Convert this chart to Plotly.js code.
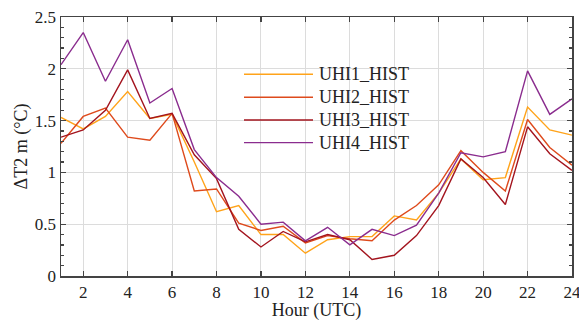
<!DOCTYPE html>
<html>
<head>
<meta charset="utf-8">
<script src="https://cdn.plot.ly/plotly-3.0.1.min.js"></script>
<style>html,body{margin:0;padding:0;background:#fff;}#chart{width:579px;height:321px;}</style>
</head>
<body>
<div id="chart"></div>
<script>
var hours = [1,2,3,4,5,6,7,8,9,10,11,12,13,14,15,16,17,18,19,20,21,22,23,24];
var uhi1 = [1.53,1.42,1.54,1.78,1.52,1.56,1.10,0.62,0.68,0.40,0.40,0.22,0.35,0.38,0.38,0.58,0.54,0.80,1.13,0.93,0.95,1.63,1.41,1.36];
var uhi2 = [1.28,1.54,1.62,1.34,1.31,1.57,0.82,0.84,0.51,0.44,0.48,0.32,0.39,0.36,0.34,0.54,0.68,0.88,1.21,1.00,0.82,1.51,1.24,1.07];
var uhi3 = [1.34,1.41,1.60,1.99,1.52,1.57,1.17,0.94,0.45,0.28,0.43,0.33,0.40,0.35,0.16,0.20,0.39,0.68,1.13,0.95,0.69,1.44,1.18,1.02];
var uhi4 = [2.04,2.35,1.88,2.28,1.67,1.81,1.22,0.95,0.77,0.50,0.52,0.34,0.47,0.30,0.45,0.39,0.49,0.80,1.19,1.15,1.20,1.98,1.56,1.71];
var names = ['UHI1_HIST','UHI2_HIST','UHI3_HIST','UHI4_HIST'];
var colors = ['#FFA31A','#DE4A1C','#A3141E','#8A2C8E'];
var series = [uhi1, uhi2, uhi3, uhi4];
var xTickVals = [2,4,6,8,10,12,14,16,18,20,22,24];
var xTickText = ['2','4','6','8','10','12','14','16','18','20','22','24'];
var yTickVals = [0,0.5,1,1.5,2,2.5];
var yTickText = ['0','0.5','1','1.5','2','2.5'];

var ML = 61, MR = 7, MT = 17, MB = 45;
var W = 579 - ML - MR, H = 321 - MT - MB;
function px(x){ return (x - ML) / W; }
function py(y){ return (321 - MB - y) / H; }

var traces = series.map(function(s, i){
  return {x: hours, y: s, type: 'scatter', mode: 'lines', name: names[i],
          line: {color: colors[i], width: 1.4}, showlegend: false};
});

var FAM = 'Liberation Serif';
var shapes = [], annotations = [];
var rowY = [74.3, 97.3, 120, 142.6];
names.forEach(function(n, i){
  shapes.push({type: 'line', xref: 'paper', yref: 'paper',
    x0: px(244), x1: px(313), y0: py(rowY[i]), y1: py(rowY[i]),
    line: {color: colors[i], width: 1.4}});
  annotations.push({xref: 'paper', yref: 'paper', x: px(317), y: py(rowY[i]),
    xanchor: 'left', yanchor: 'middle', showarrow: false, text: n,
    font: {family: FAM, size: 18, color: '#222'}});
});

var layout = {
  width: 579, height: 321,
  margin: {l: ML, r: MR, t: MT, b: MB},
  paper_bgcolor: '#fff', plot_bgcolor: '#fff',
  font: {family: FAM, size: 16, color: '#222'},
  xaxis: {range: [1, 24], tickmode: 'array', tickvals: xTickVals, ticktext: xTickText,
    ticklabeloverflow: 'allow',
    ticks: 'inside', ticklen: 5, tickwidth: 1.2, tickcolor: '#444',
    showline: true, linecolor: '#444', linewidth: 1.5, mirror: 'ticks',
    showgrid: true, gridcolor: '#dcdcdc', gridwidth: 1, zeroline: false,
    tickfont: {family: FAM, size: 17, color: '#222'},
    title: {text: 'Hour (UTC)', font: {family: FAM, size: 18, color: '#222'}, standoff: 4}},
  yaxis: {range: [0, 2.5], tickmode: 'array', tickvals: yTickVals, ticktext: yTickText,
    ticks: 'inside', ticklen: 5, tickwidth: 1.2, tickcolor: '#444',
    showline: true, linecolor: '#444', linewidth: 1.5, mirror: 'ticks',
    showgrid: true, gridcolor: '#dcdcdc', gridwidth: 1, zeroline: false,
    minor: {dtick: 0.1, tick0: 0, ticks: 'inside', ticklen: 3, tickcolor: '#444', showgrid: false},
    tickfont: {family: FAM, size: 17, color: '#222'},
    title: {text: '\u0394T2 m (\u00B0C)', font: {family: FAM, size: 18, color: '#222'}, standoff: 2}},
  shapes: shapes,
  annotations: annotations,
  showlegend: false
};
Plotly.newPlot('chart', traces, layout, {displayModeBar: false, staticPlot: true});
</script>
</body>
</html>
